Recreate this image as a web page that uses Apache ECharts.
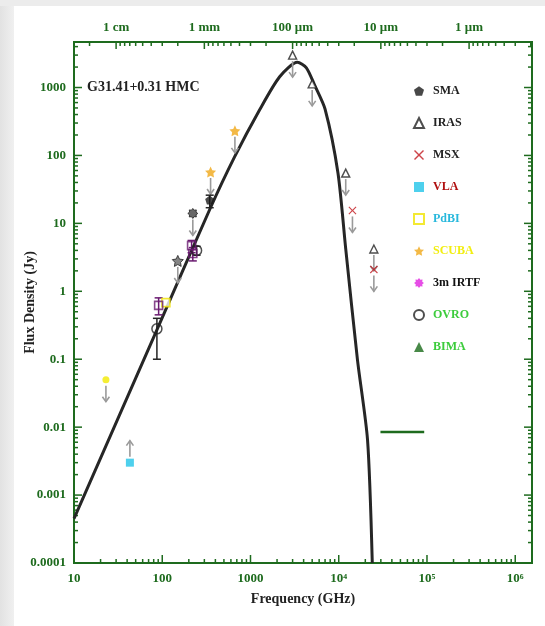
<!DOCTYPE html>
<html>
<head>
<meta charset="utf-8">
<script src="https://cdn.jsdelivr.net/npm/echarts@6/dist/echarts.min.js"></script>
<style>
  html, body { margin: 0; padding: 0; }
  body {
    width: 545px; height: 626px;
    background:
      linear-gradient(#ececec, #ececec) top left / 100% 6px no-repeat,
      linear-gradient(to right, #e2e2e2, #f0f0f0) top left / 14px 100% no-repeat,
      #fff;
  }
  #main { width: 545px; height: 626px; }
</style>
</head>
<body>
<div id="main"></div>
<script>
// tick labels
const xTickLabels = ['10', '100', '1000', '10⁴', '10⁵', '10⁶'];
const yTickLabels = ['0.0001', '0.001', '0.01', '0.1', '1', '10', '100', '1000'];
const waveLabels = ['1 cm', '1 mm', '100 μm', '10 μm', '1 μm'];
const waveFreq = [30, 300, 3000, 30000, 300000];

// model SED (GHz, Jy)
const modelFreq = [10, 88, 345, 660, 1270, 2140, 3400, 4300, 5300, 7000, 9800, 12000, 16300, 21200, 24000];
const modelFlux = [4.5e-4, 0.28, 16, 95, 470, 1440, 2350, 1950, 1100, 480, 55, 4.2, 0.098, 0.0065, 1e-4];

// observations
const smaFreq = [345], smaFlux = [22], smaLo = [17], smaHi = [26];
const irasFreq = [3000, 5000, 12000, 25000], irasFlux = [3000, 1130, 55, 4.2];
const msxFreq = [14300, 25000], msxFlux = [15.5, 2.1];
const vlaFreq = [43], vlaFlux = [0.003];
const pdbiFreq = [110], pdbiFlux = [0.68];
const scubaFreq = [353, 666], scubaFlux = [57, 230];
const ovroFreq = [87, 245], ovroFlux = [0.28, 4.0], ovroLo = [0.1, 3.4], ovroHi = [0.4, 4.6];
const purpleFreq = [91, 215, 222], purpleFlux = [0.62, 4.7, 3.6], purpleLo = [0.45, 3.7, 2.8], purpleHi = [0.8, 5.6, 4.4];
const yellowFreq = [23], yellowFlux = [0.05];
const darkStarFreq = [150], darkStarFlux = [2.8];
const darkGearFreq = [222], darkGearFlux = [14];

// limit line (mid-IR)
const limitFreq = [29700, 93000], limitFlux = 0.0085;

const lg = Math.log10;
const X_MIN = 1, X_MAX = 6.19, Y_MIN = -4, Y_MAX = 3.67;
const GREEN = '#1e6b1e';
const FONT = '"Liberation Serif", "DejaVu Serif", serif';

const pts = (f, s) => f.map((v, i) => [lg(v), lg(s[i])]);
const bars = (f, lo, hi) => f.map((v, i) => [lg(v), lg(lo[i]), lg(hi[i])]);

function gearPath(n, r1, r2) {
  let s = '';
  for (let i = 0; i < 2 * n; i++) {
    const a = Math.PI * i / n, r = i % 2 ? r2 : r1;
    s += (i ? 'L' : 'M') + (r * Math.sin(a)).toFixed(2) + ',' + (-r * Math.cos(a)).toFixed(2) + ' ';
  }
  return 'path://' + s + 'Z';
}
const PENTAGON = 'path://M0,-10 L9.5,-3.1 L5.9,8.1 L-5.9,8.1 L-9.5,-3.1 Z';
const STAR = 'path://M0,-10 L2.9,-4 L9.5,-3.1 L4.8,1.5 L5.9,8.1 L0,5 L-5.9,8.1 L-4.8,1.5 L-9.5,-3.1 L-2.9,-4 Z';
const CROSS = 'path://M1,0 L5,4 L9,0 L10,1 L6,5 L10,9 L9,10 L5,6 L1,10 L0,9 L4,5 L0,1 Z';
const GEAR = gearPath(8, 10, 7);

// axis ticks (log minor ticks), drawn on all four sides
const tickData = [];
for (let d = 1; d <= 6; d++) {
  for (let k = 1; k <= 9; k++) {
    const v = d + lg(k);
    if (v <= X_MAX) tickData.push([v, 0, k === 1 ? 8 : 4]);
  }
}
for (let d = -4; d <= 3; d++) {
  for (let k = 1; k <= 9; k++) {
    const v = d + lg(k);
    if (v <= Y_MAX) {
      tickData.push([v, 2, k === 1 ? 8 : 4]);
      tickData.push([v, 3, k === 1 ? 8 : 4]);
    }
  }
}
// top axis: wavelength ticks
for (let m = -1; m <= 4; m++) {
  const major = lg(30) + m;
  if (major >= X_MIN) tickData.push([major, 1, 7]);
  for (let k = 2; k <= 9; k++) {
    const v = lg(30 * Math.pow(10, m + 1) / k);
    if (v >= X_MIN && v <= X_MAX) tickData.push([v, 1, 4]);
  }
}

const upperLimits = [
  ...pts(yellowFreq, yellowFlux), ...pts(darkStarFreq, darkStarFlux), ...pts(darkGearFreq, darkGearFlux),
  ...pts(scubaFreq, scubaFlux), ...pts(irasFreq, irasFlux), ...pts(msxFreq, msxFlux)
].map(p => [p[0], p[1], 1]);
const lowerLimits = pts(vlaFreq, vlaFlux).map(p => [p[0], p[1], -1]);

const chart = echarts.init(document.getElementById('main'));

const scatter = (name, data, symbol, size, style) => ({
  name, type: 'scatter', data, symbol, symbolSize: size, z: 5, itemStyle: style
});

chart.setOption({
  animation: false,
  title: {
    text: 'G31.41+0.31 HMC', left: 87, top: 80, padding: 0,
    textStyle: { fontFamily: FONT, fontSize: 14, fontWeight: 'bold', color: '#222' }
  },
  grid: { left: 74, right: 13, top: 42, bottom: 63, show: true, borderColor: GREEN, borderWidth: 2, outerBoundsMode: 'none' },
  legend: {
    orient: 'vertical', left: 408, top: 80, itemWidth: 10, itemHeight: 10, itemGap: 20,
    textStyle: { fontFamily: FONT, fontSize: 12, fontWeight: 'bold', lineHeight: 12, padding: [0, 0, 0, 4] },
    data: [
      { name: 'SMA', textStyle: { color: '#222' } },
      { name: 'IRAS', textStyle: { color: '#222' } },
      { name: 'MSX', textStyle: { color: '#222' } },
      { name: 'VLA', textStyle: { color: '#b01010' } },
      { name: 'PdBI', textStyle: { color: '#28b8dc' } },
      { name: 'SCUBA', textStyle: { color: '#f2ee10' } },
      { name: '3m IRTF', textStyle: { color: '#111' } },
      { name: 'OVRO', textStyle: { color: '#3ccc3c' } },
      { name: 'BIMA', textStyle: { color: '#3ccc3c' } }
    ]
  },
  xAxis: {
    type: 'value', min: X_MIN, max: X_MAX, interval: 1,
    name: 'Frequency (GHz)', nameLocation: 'middle', nameGap: 29, nameMoveOverlap: false,
    nameTextStyle: { fontFamily: FONT, fontSize: 14, fontWeight: 'bold', color: '#222' },
    axisLine: { show: false }, axisTick: { show: false }, splitLine: { show: false },
    axisLabel: {
      margin: 9, color: GREEN, fontFamily: FONT, fontSize: 13, fontWeight: 'bold',
      formatter: v => Number.isInteger(v) ? xTickLabels[v - 1] : ''
    }
  },
  yAxis: {
    type: 'value', min: Y_MIN, max: Y_MAX, interval: 1,
    name: 'Flux Density (Jy)', nameLocation: 'middle', nameGap: 37, nameMoveOverlap: false,
    nameTextStyle: { fontFamily: FONT, fontSize: 14, fontWeight: 'bold', color: '#222' },
    axisLine: { show: false }, axisTick: { show: false }, splitLine: { show: false },
    axisLabel: {
      margin: 8, color: GREEN, fontFamily: FONT, fontSize: 13, fontWeight: 'bold',
      formatter: v => Number.isInteger(v) ? yTickLabels[v + 4] : ''
    }
  },
  series: [
    {
      name: 'ticks', type: 'custom', silent: true, clip: false, z: 2,
      data: tickData, encode: { x: 0, y: 1 },
      renderItem: (params, api) => {
        const v = api.value(0), side = api.value(1), len = api.value(2);
        let p, q;
        if (side === 0) { p = api.coord([v, Y_MIN]); q = [p[0], p[1] - len]; }
        else if (side === 1) { p = api.coord([v, Y_MAX]); q = [p[0], p[1] + len]; }
        else if (side === 2) { p = api.coord([X_MIN, v]); q = [p[0] + len, p[1]]; }
        else { p = api.coord([X_MAX, v]); q = [p[0] - len, p[1]]; }
        return { type: 'line', shape: { x1: p[0], y1: p[1], x2: q[0], y2: q[1] }, style: { stroke: GREEN, lineWidth: 1.5 } };
      }
    },
    {
      name: 'wavelength', type: 'custom', silent: true, clip: false,
      data: waveFreq.map(f => [lg(f), Y_MAX]),
      renderItem: (params, api) => {
        const p = api.coord([api.value(0), Y_MAX]);
        return {
          type: 'text', x: p[0], y: p[1] - 14,
          style: { text: waveLabels[params.dataIndex], fill: GREEN, font: 'bold 13px ' + FONT, align: 'center', verticalAlign: 'middle' }
        };
      }
    },
    {
      name: 'model', type: 'line', data: pts(modelFreq, modelFlux), showSymbol: false, symbol: 'none',
      smooth: 0.25, z: 3, silent: true,
      lineStyle: { color: '#262626', width: 3 }
    },
    {
      name: 'limit', type: 'line', data: limitFreq.map(f => [lg(f), lg(limitFlux)]), symbol: 'none', silent: true, z: 3,
      lineStyle: { color: GREEN, width: 2.5 }
    },
    {
      name: 'arrows', type: 'custom', silent: true, z: 4,
      data: upperLimits.concat(lowerLimits),
      renderItem: (params, api) => {
        const p = api.coord([api.value(0), api.value(1)]), dir = api.value(2);
        const y0 = p[1] + dir * 6, y1 = p[1] + dir * 22;
        const st = { stroke: '#9a9a9a', lineWidth: 1.6, fill: null };
        return {
          type: 'group', children: [
            { type: 'line', shape: { x1: p[0], y1: y0, x2: p[0], y2: y1 }, style: st },
            { type: 'polyline', shape: { points: [[p[0] - 3.5, y1 - dir * 5], [p[0], y1], [p[0] + 3.5, y1 - dir * 5]] }, style: st }
          ]
        };
      }
    },
    {
      name: 'errors', type: 'custom', silent: true, z: 4,
      data: bars(smaFreq, smaLo, smaHi).map(d => d.concat(0))
        .concat(bars(ovroFreq, ovroLo, ovroHi).map(d => d.concat(0)))
        .concat(bars(purpleFreq, purpleLo, purpleHi).map(d => d.concat(1))),
      renderItem: (params, api) => {
        const lo = api.coord([api.value(0), api.value(1)]), hi = api.coord([api.value(0), api.value(2)]);
        const st = { stroke: api.value(3) ? '#6a1a70' : '#222', lineWidth: 1.5 };
        return {
          type: 'group', children: [
            { type: 'line', shape: { x1: lo[0], y1: lo[1], x2: hi[0], y2: hi[1] }, style: st },
            { type: 'line', shape: { x1: lo[0] - 4, y1: lo[1], x2: lo[0] + 4, y2: lo[1] }, style: st },
            { type: 'line', shape: { x1: hi[0] - 4, y1: hi[1], x2: hi[0] + 4, y2: hi[1] }, style: st }
          ]
        };
      }
    },
    scatter('SMA', pts(smaFreq, smaFlux), PENTAGON, 9, { color: '#1a1a1a' }),
    scatter('IRAS', pts(irasFreq, irasFlux), 'triangle', 8, { color: '#fff', borderColor: '#222', borderWidth: 1.4 }),
    scatter('MSX', pts(msxFreq, msxFlux), CROSS, 8, { color: '#c0151b' }),
    scatter('VLA', pts(vlaFreq, vlaFlux), 'rect', 8, { color: '#22c4e8' }),
    scatter('PdBI', pts(pdbiFreq, pdbiFlux), 'rect', 8, { color: '#fff', borderColor: '#f0e400', borderWidth: 1.6 }),
    scatter('SCUBA', pts(scubaFreq, scubaFlux), STAR, 11, { color: '#f0a818' }),
    scatter('3m IRTF', [], GEAR, 10, { color: '#e020e0' }),
    scatter('OVRO', pts(ovroFreq, ovroFlux), 'circle', 10, { color: 'rgba(255,255,255,0)', borderColor: '#222', borderWidth: 1.5 }),
    scatter('BIMA', [], 'triangle', 8, { color: '#1a6b1a' }),
    scatter('purple', pts(purpleFreq, purpleFlux), 'rect', 8, { color: 'rgba(255,255,255,0)', borderColor: '#6a1a70', borderWidth: 1.6 }),
    scatter('yellow', pts(yellowFreq, yellowFlux), 'circle', 7, { color: '#f2ea00' }),
    scatter('darkStar', pts(darkStarFreq, darkStarFlux), STAR, 11, { color: '#666', borderColor: '#222', borderWidth: 1 }),
    scatter('darkGear', pts(darkGearFreq, darkGearFlux), GEAR, 10, { color: '#444', borderColor: '#222', borderWidth: 1 })
  ]
});
</script>
</body>
</html>
